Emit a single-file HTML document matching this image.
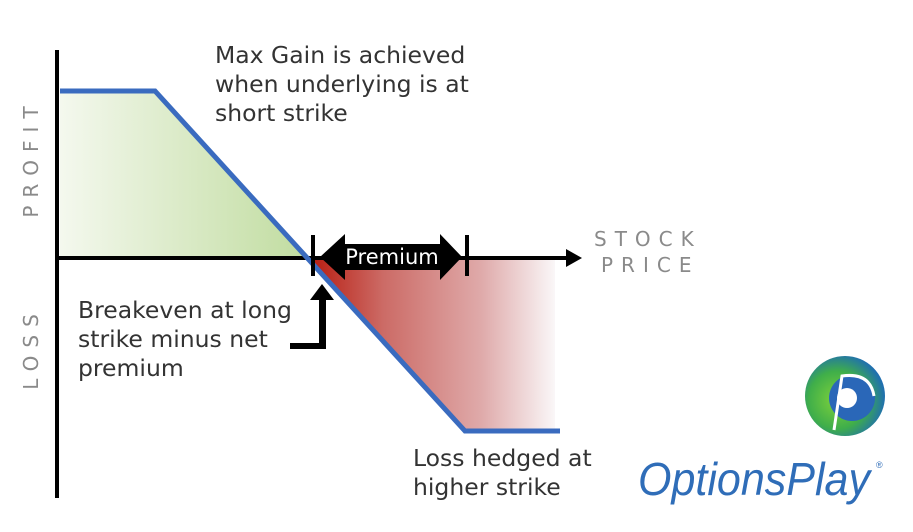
<!DOCTYPE html>
<html><head><meta charset="utf-8"><style>
html,body{margin:0;padding:0;background:#fff;width:913px;height:532px;overflow:hidden}
svg{display:block}
.t{font-family:"DejaVu Sans",Verdana,sans-serif;font-size:23.5px;fill:#333}
.ax{font-family:"DejaVu Sans",Verdana,sans-serif;font-size:20px;fill:#8a8a8a;letter-spacing:8px}
</style></head><body>
<svg width="913" height="532" viewBox="0 0 913 532" xmlns="http://www.w3.org/2000/svg">
<defs>
<linearGradient id="g" x1="0" x2="1" y1="0" y2="0">
<stop offset="0" stop-color="#f4f8ee"/><stop offset="1" stop-color="#c0dc9f"/>
</linearGradient>
<linearGradient id="r" x1="310" x2="555" y1="0" y2="0" gradientUnits="userSpaceOnUse">
<stop offset="0" stop-color="#b81c10"/><stop offset="0.3" stop-color="#cc6b66"/><stop offset="0.7" stop-color="#dfaaaa"/><stop offset="1" stop-color="#faf7f8"/>
</linearGradient>
<radialGradient id="lg" cx="0.4" cy="0.55" r="0.6">
<stop offset="0" stop-color="#7fd23a"/><stop offset="0.6" stop-color="#3fae4a"/><stop offset="1" stop-color="#1f6fb0"/>
</radialGradient>
</defs>
<polygon points="60,91 155,91 310,258 60,258" fill="url(#g)"/>
<polygon points="310,258 555,258 555,431 465,431" fill="url(#r)"/>
<line x1="57" y1="50" x2="57" y2="498" stroke="#000" stroke-width="4"/>
<line x1="57" y1="258" x2="568" y2="258" stroke="#000" stroke-width="4"/>
<polygon points="566,249 582,258 566,267" fill="#000"/>
<polyline points="60,91 155,91 465,431 560,431" fill="none" stroke="#3a6bbf" stroke-width="5"/>
<line x1="313" y1="235" x2="313" y2="276" stroke="#000" stroke-width="4"/>
<line x1="467" y1="235" x2="467" y2="276" stroke="#000" stroke-width="4"/>
<polygon points="320,257 345,234 345,244 440,244 440,234 462,257 440,280 440,270 345,270 345,280" fill="#000"/>
<text x="392" y="264" text-anchor="middle" font-family="DejaVu Sans,sans-serif" font-size="21" fill="#fff">Premium</text>
<polygon points="322,284 334,300 326,300 326,349 290,349 290,343 319,343 319,300 310,300" fill="#000"/>
<text class="t" x="215" y="63">Max Gain is achieved</text>
<text class="t" x="215" y="92">when underlying is at</text>
<text class="t" x="215" y="121">short strike</text>
<text class="t" x="78" y="318">Breakeven at long</text>
<text class="t" x="78" y="347">strike minus net</text>
<text class="t" x="78" y="376">premium</text>
<text class="t" x="413" y="466">Loss hedged at</text>
<text class="t" x="413" y="495">higher strike</text>
<text class="ax" transform="translate(38,158) rotate(-90)" text-anchor="middle">PROFIT</text>
<text class="ax" transform="translate(38,348) rotate(-90)" text-anchor="middle">LOSS</text>
<text class="ax" x="594" y="246">STOCK</text>
<text class="ax" x="601" y="272">PRICE</text>
<circle cx="845" cy="396" r="40" fill="url(#lg)"/>
<circle cx="852" cy="398" r="23" fill="#2a67b8"/>
<circle cx="847" cy="398" r="10" fill="#fff"/>
<path d="M834 430 L842 376 Q870 372 874 396" fill="none" stroke="#fff" stroke-width="3"/>
<text x="638" y="495" font-family="Liberation Sans,sans-serif" font-style="italic" font-size="46" fill="#2f6db8" textLength="232" lengthAdjust="spacingAndGlyphs">OptionsPlay</text>
<text x="876" y="468" font-family="Liberation Sans,sans-serif" font-size="9" fill="#2f6db8">®</text>
</svg>
</body></html>
